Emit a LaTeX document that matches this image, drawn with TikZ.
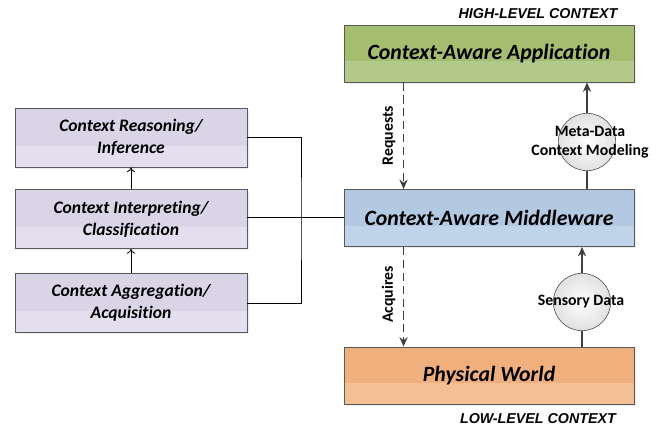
\documentclass[tikz,border=0pt]{standalone}
\usepackage{fontspec}
\setmainfont[Ligatures=NoCommon]{Carlito}
\newfontfamily\arialfont{Liberation Sans}
\usetikzlibrary{arrows.meta,shadows,calc}
\definecolor{appgreen}{HTML}{A5BD6E}
\definecolor{appgreenlt}{HTML}{B3C98A}
\definecolor{mwblue}{HTML}{B2C9E1}
\definecolor{mwbluelt}{HTML}{BFD4E9}
\definecolor{pworange}{HTML}{F0B07D}
\definecolor{pworangelt}{HTML}{F3BF95}
\definecolor{steplav}{HTML}{DAD4E7}
\definecolor{steplavlt}{HTML}{E4DFEE}
\definecolor{arrowgray}{HTML}{404040}

\begin{document}
\begin{tikzpicture}
        [%%%%%%%%%%%%%%%%%%%%%%%%%%%%%%
        x=0.03cm, y=-0.03cm,
        band/.style={path picture={\fill[#1]
          ($(path picture bounding box.south west)!0.36!(path picture bounding box.north west)$)
          rectangle (path picture bounding box.south east);}},
        box/.style={draw=black!65, line width=0.8pt, align=center,
          drop shadow={shadow xshift=1.5pt, shadow yshift=-1.5pt, fill=black!15},
          font=\bfseries\itshape},
        layer/.style={box, minimum width=8.7cm, minimum height=1.71cm,
          font=\fontsize{18.6}{22}\selectfont\bfseries\itshape},
        stepbox/.style={box, minimum width=6.96cm, minimum height=1.77cm,
          font=\fontsize{15}{19}\selectfont\bfseries\itshape},
        bubble/.style={circle, draw=black!70, line width=0.5pt, minimum size=1.72cm,
          inner color=white, outer color=black!12},
        lbl/.style={font=\fontsize{13.5}{16.5}\selectfont\bfseries, align=center},
        tag/.style={font=\arialfont\fontsize{12.2}{14}\selectfont\bfseries\itshape},
        wire/.style={draw=black, line width=0.7pt},
        dataflow/.style={draw=arrowgray, line width=1.4pt, -{Stealth[length=8pt,width=7pt]}},
        reqflow/.style={draw=arrowgray, line width=1.3pt, dash pattern=on 7pt off 4pt,
          -{Stealth[length=8pt,width=7pt]}},
        ]%%%%%%%%%%%%%%%%%%%%%%%%%%%%%%
        \useasboundingbox (0,0) rectangle (665,428);
        % Layers
        \node[layer, fill=appgreen, band=appgreenlt] (app) at (489,53.5) {Context-Aware Application};
        \node[layer, fill=mwblue, band=mwbluelt] (mw) at (489,218) {Context-Aware Middleware};
        \node[layer, fill=pworange, band=pworangelt] (pw) at (489,375.5) {Physical World};
        % Processing steps
        \node[stepbox, fill=steplav, band=steplavlt] (reason) at (131,137.5) {Context Reasoning/\\Inference};
        \node[stepbox, fill=steplav, band=steplavlt] (interp) at (131,219) {Context Interpreting/\\Classification};
        \node[stepbox, fill=steplav, band=steplavlt] (aggr) at (131,303) {Context Aggregation/\\Acquisition};
        % Context levels
        \node[tag] (high) at (538,14) {HIGH-LEVEL CONTEXT};
        \node[tag] (low) at (538,419) {LOW-LEVEL CONTEXT};
        % Bubbles
        \node[bubble] (meta) at (587,142) {};
        \node[bubble] (sense) at (582,302) {};
        % Steps wiring
        \draw[wire, -{To[length=4pt,width=7pt]}] (interp) -- (reason);
        \draw[wire, -{To[length=4pt,width=7pt]}] (aggr) -- (interp);
        \coordinate (bus) at (301,217);
        \draw[wire] (reason.east) -| (bus) |- (aggr.east);
        \draw[wire] (interp.east |- bus) -- (mw.west |- bus);
        % Requests / acquires
        \draw[reqflow] ([xshift=1.8cm]app.south west) -- ([xshift=1.8cm]mw.north west)
          node[midway, rotate=90, anchor=south, lbl, yshift=3pt] (req) {Requests};
        \draw[reqflow] ([xshift=1.8cm]mw.south west) -- ([xshift=1.8cm]pw.north west)
          node[midway, rotate=90, anchor=south, lbl, yshift=3pt, xshift=2pt] (acq) {Acquires};
        % Data up
        \draw[dataflow, -] (mw.north -| meta) -- (meta.south);
        \draw[dataflow] (meta.north) -- (app.south -| meta);
        \draw[dataflow, -] (pw.north -| sense) -- (sense.south);
        \draw[dataflow] (sense.north) -- (mw.south -| sense);
        \node[lbl] (metatxt) at (590,142) {Meta-Data\\Context Modeling};
        \node[lbl] (sensetxt) at (581,302) {Sensory Data};
      \end{tikzpicture}
\end{document}
